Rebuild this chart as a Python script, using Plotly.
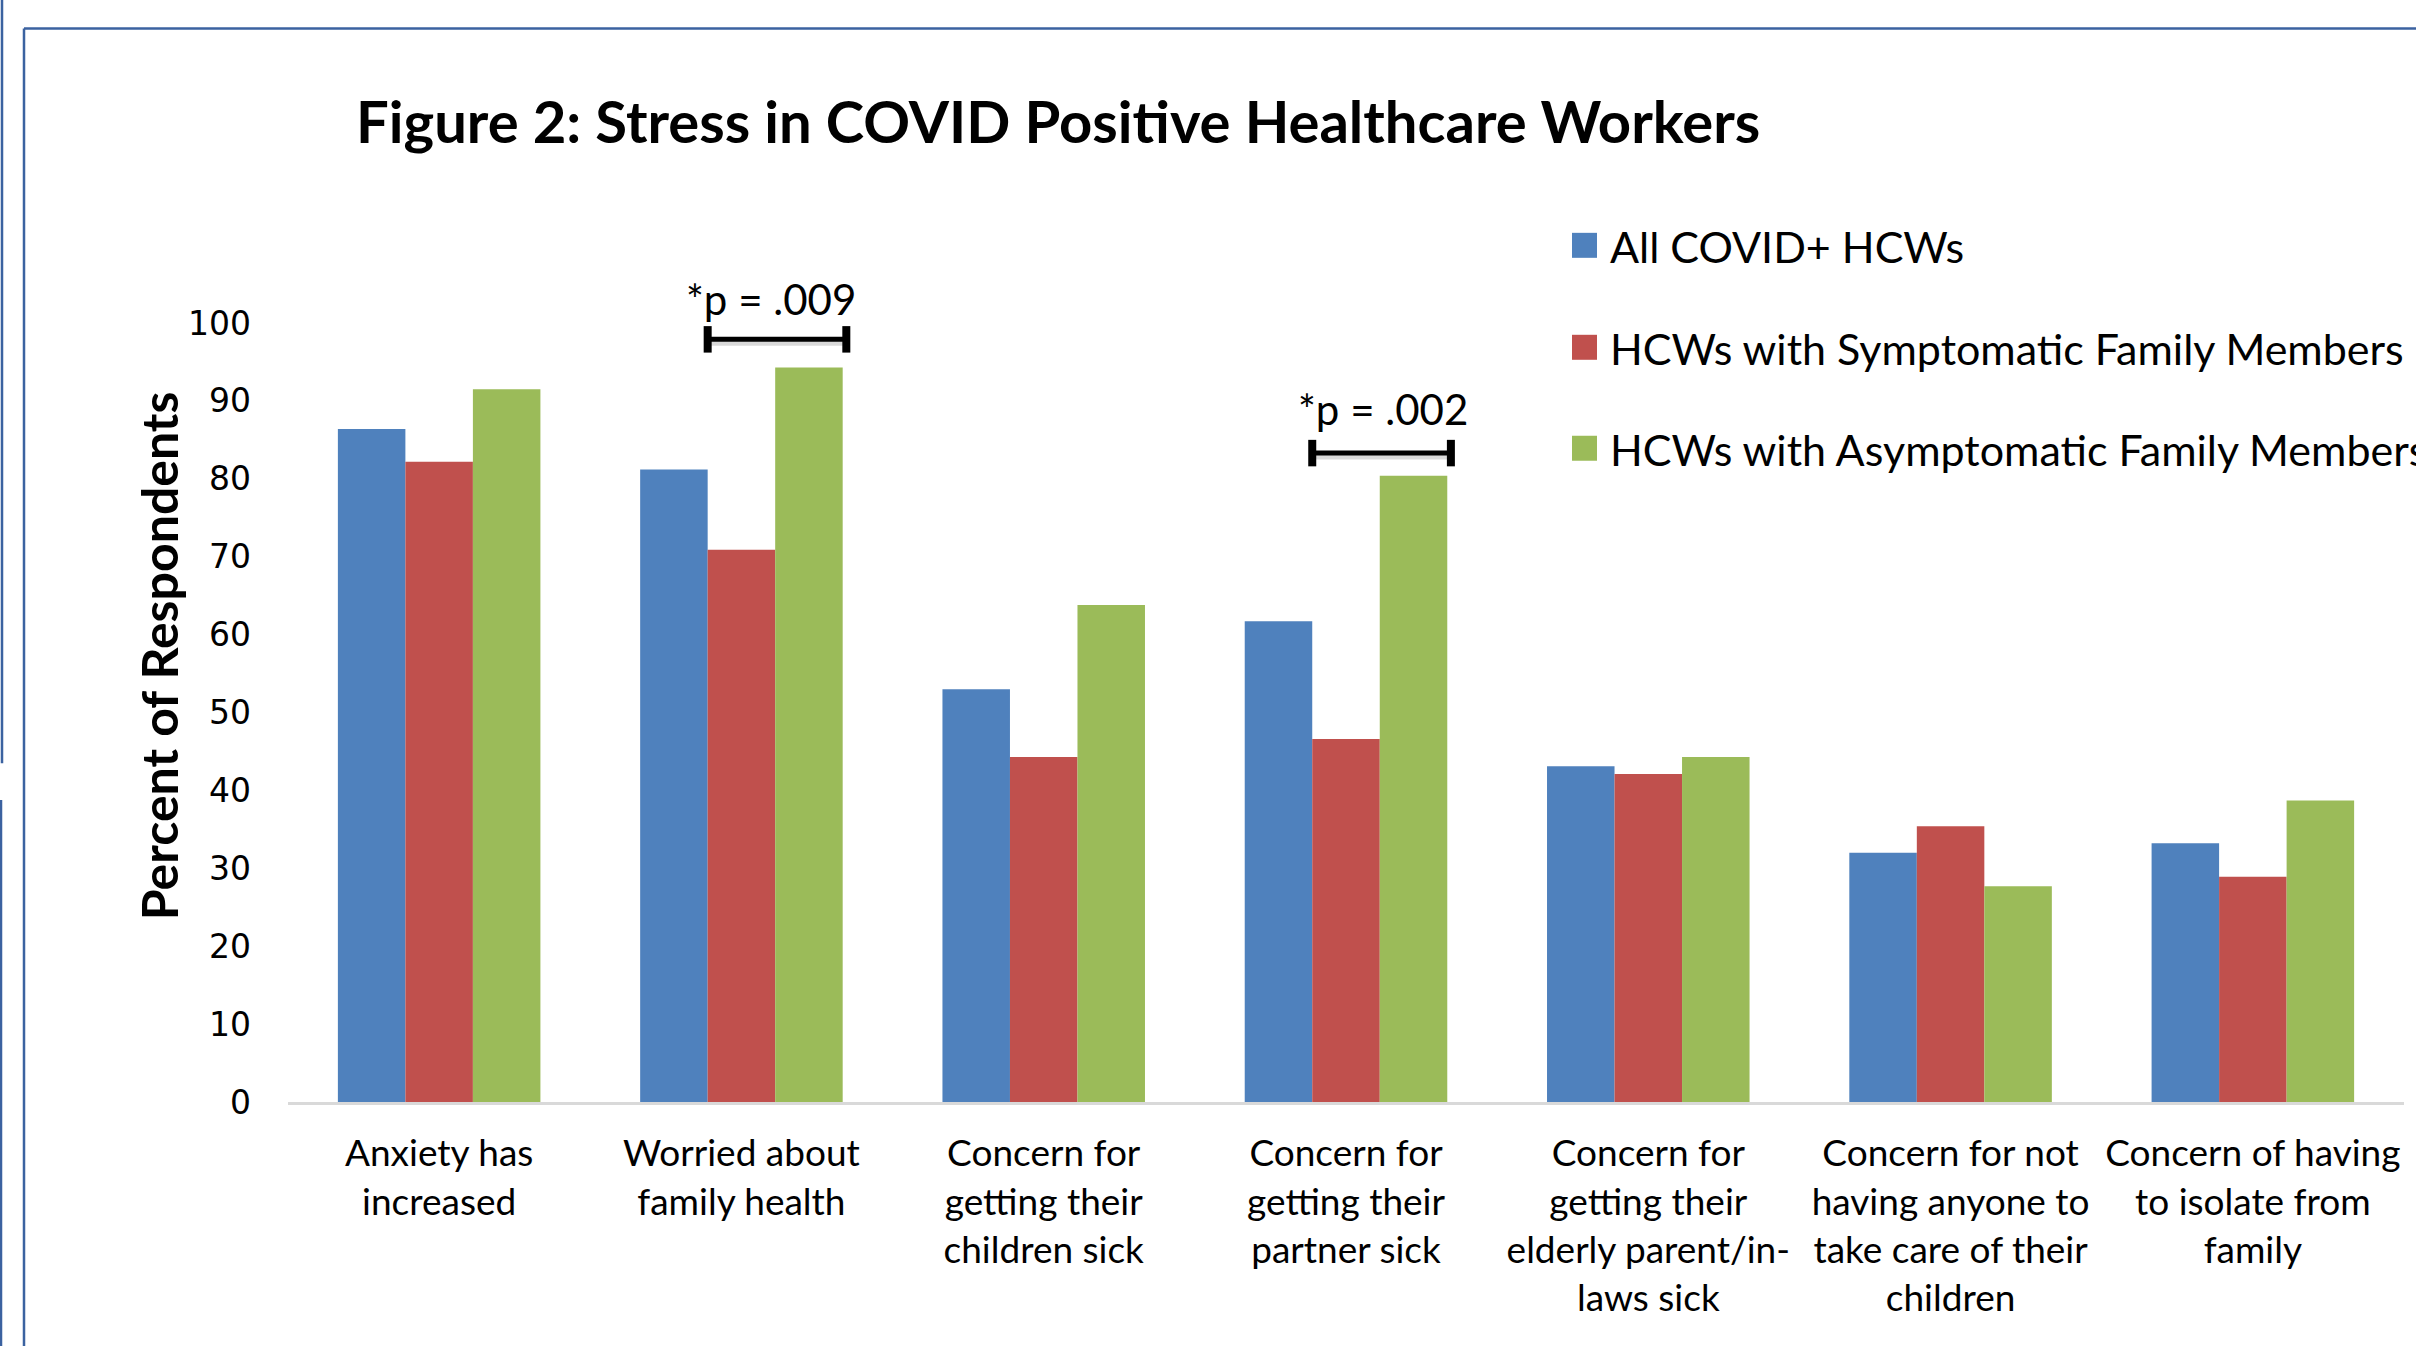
import plotly.graph_objects as go

# ---------------- data ----------------
categories = [
    "Anxiety has<br>increased",
    "Worried about<br>family health",
    "Concern for<br>getting their<br>children sick",
    "Concern for<br>getting their<br>partner sick",
    "Concern for<br>getting their<br>elderly parent/in-<br>laws sick",
    "Concern for not<br>having anyone to<br>take care of their<br>children",
    "Concern of having<br>to isolate from<br>family",
]
all_hcws = [86.4, 81.2, 53.0, 61.7, 43.1, 32.0, 33.2]
symptomatic = [82.2, 70.9, 44.3, 46.6, 42.1, 35.4, 28.9]
asymptomatic = [91.5, 94.3, 63.8, 80.4, 44.3, 27.7, 38.7]
series_names = [
    "All COVID+ HCWs",
    "HCWs with Symptomatic Family Members",
    "HCWs with Asymptomatic Family Members",
]
y_ticks = [0, 10, 20, 30, 40, 50, 60, 70, 80, 90, 100]
p_labels = ["*p = .009", "*p = .002"]
p_groups = [1, 3]          # category index of each comparison

# ---------------- style ----------------
colors = ["#4F81BD", "#C0504D", "#9BBB59"]
W, H = 2416, 1346
L, R, T, B = 288, 2404, 322.7, 1102
FONT = "Lato"
frame_col = "#3B62A0"


def px_x(px):
    return (px - L) / (R - L)


def px_y(py):
    return (B - py) / (B - T)


fig = go.Figure()
for name, vals, col in zip(series_names, [all_hcws, symptomatic, asymptomatic], colors):
    fig.add_trace(go.Bar(x=categories, y=vals, name=name, marker=dict(color=col, line=dict(width=0)),
                         showlegend=False))

bargap = 0.33
bw = (1 - bargap) / 3

shapes = []
annotations = []

# significance brackets (red+green bars of a group)
bracket_y = [97.9, 83.3]
text_py = [299, 409]          # pixel rows of the p-value labels
text_dx = [-0.02, 0.005]
for g, lab, by, tpy, dx in zip(p_groups, p_labels, bracket_y, text_py, text_dx):
    x0 = g - bw / 2
    x1 = g + 1.5 * bw + 0.012
    shapes.append(dict(type="line", xref="x", yref="y", x0=x0 + 0.01, x1=x1 + 0.01, y0=by - 0.45, y1=by - 0.45,
                       line=dict(color="rgba(0,0,0,0.15)", width=6)))
    shapes.append(dict(type="line", xref="x", yref="y", x0=x0, x1=x1, y0=by, y1=by,
                       line=dict(color="black", width=5)))
    for xe in (x0, x1):
        shapes.append(dict(type="line", xref="x", yref="y", x0=xe, x1=xe, y0=by - 1.7, y1=by + 1.7,
                           line=dict(color="black", width=8)))
    annotations.append(dict(text=lab, xref="x", yref="paper", x=(x0 + x1) / 2 + dx, y=px_y(tpy),
                            showarrow=False, xanchor="center", yanchor="middle",
                            font=dict(family=FONT, size=42, color="black")))

# manual legend
leg_rows = [245, 347, 448]
for name, col, yc in zip(series_names, colors, leg_rows):
    shapes.append(dict(type="rect", xref="paper", yref="paper",
                       x0=px_x(1572), x1=px_x(1597), y0=px_y(yc + 12.5), y1=px_y(yc - 12.5),
                       fillcolor=col, line=dict(width=0)))
    annotations.append(dict(text=name, xref="paper", yref="paper", x=px_x(1608), y=px_y(yc + 1),
                            showarrow=False, xanchor="left", yanchor="middle",
                            font=dict(family=FONT, size=43, color="black")))

# frame lines
shapes.append(dict(type="line", xref="paper", yref="paper", x0=px_x(24), x1=px_x(2420),
                   y0=px_y(28), y1=px_y(28), line=dict(color=frame_col, width=2.5)))
shapes.append(dict(type="line", xref="paper", yref="paper", x0=px_x(24), x1=px_x(24),
                   y0=px_y(28), y1=px_y(1350), line=dict(color=frame_col, width=2.5)))
shapes.append(dict(type="line", xref="paper", yref="paper", x0=px_x(2), x1=px_x(2),
                   y0=px_y(-5), y1=px_y(763), line=dict(color=frame_col, width=2.5)))
shapes.append(dict(type="line", xref="paper", yref="paper", x0=px_x(1), x1=px_x(1),
                   y0=px_y(800), y1=px_y(1350), line=dict(color=frame_col, width=2.5)))

# title
annotations.append(dict(text="<b>Figure 2: Stress in COVID Positive Healthcare Workers</b>",
                        xref="paper", yref="paper", x=px_x(354), y=px_y(120),
                        showarrow=False, xanchor="left", yanchor="middle",
                        font=dict(family=FONT, size=58, color="black")))
# y-axis title
annotations.append(dict(text="<b>Percent of Respondents</b>", xref="paper", yref="paper",
                        x=px_x(159), y=px_y(656), textangle=-90, showarrow=False,
                        xanchor="center", yanchor="middle",
                        font=dict(family=FONT, size=50, color="black")))

fig.update_layout(
    width=W, height=H,
    margin=dict(l=L, r=W - R, t=T, b=H - B, pad=0),
    paper_bgcolor="white", plot_bgcolor="white",
    barmode="group", bargap=bargap, bargroupgap=0,
    showlegend=False,
    shapes=shapes, annotations=annotations,
    xaxis=dict(showgrid=False, showline=True, linecolor="#D9D9D9", linewidth=3,
               ticks="", tickfont=dict(family=FONT, size=37, color="black"),
               ticklabelstandoff=17, zeroline=False),
    yaxis=dict(range=[0, 100], tickvals=y_ticks, showgrid=False, showline=False, zeroline=False,
               ticks="", tickfont=dict(family="DejaVu Sans", size=33, color="black"),
               ticklabelstandoff=36),
)

fig.write_html("out.html")
